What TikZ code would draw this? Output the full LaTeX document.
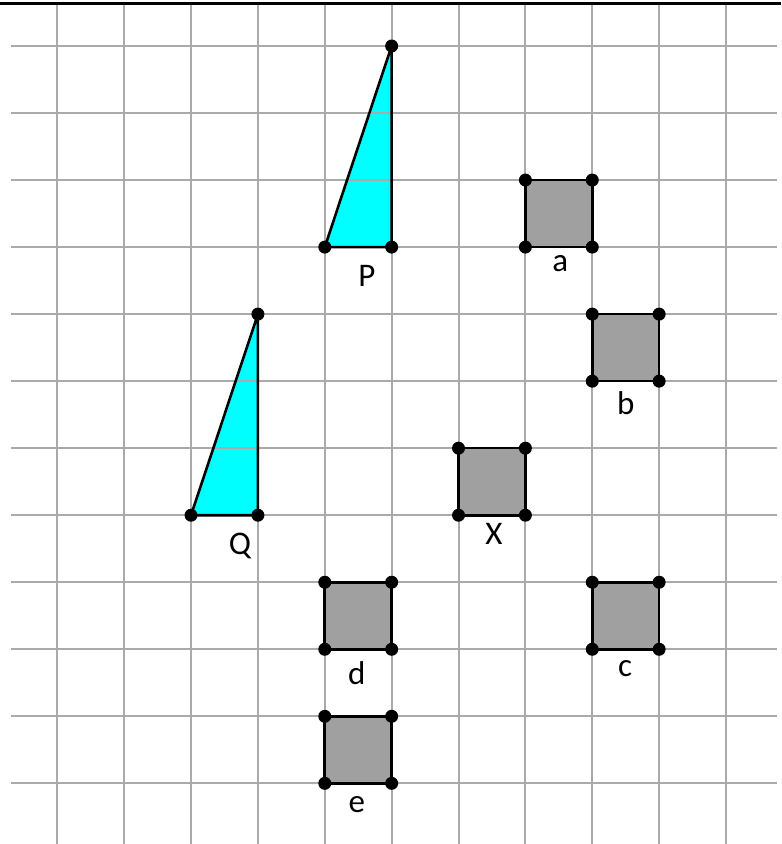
\documentclass[tikz,border=0pt]{standalone}
\usepackage{fontspec}
\setmainfont{Carlito}
\definecolor{aqua}{RGB}{0,255,255}
\definecolor{sqgray}{RGB}{160,160,160}
\definecolor{gridgray}{RGB}{170,170,170}
\begin{document}
\begin{tikzpicture}[x=66.87pt,y=-67.03pt,
  gridline/.style={draw=gridgray, line width=2pt},
  outline/.style={draw=black, line width=2.6pt, line join=round},
  tri/.style={fill=aqua},
  sq/.style={fill=sqgray},
  pt/.style={circle, fill=black, inner sep=0pt, minimum size=13pt},
  lbl/.style={anchor=base, inner sep=0pt, font=\fontsize{33}{33}\selectfont}]
\useasboundingbox (-0.8569,-0.6863) rectangle (10.8225,11.905);
\fill[white] (-0.8569,-0.6863) rectangle (10.8225,11.905);
% named vertices
\coordinate (P1) at (4,3); \coordinate (P2) at (5,3); \coordinate (P3) at (5,0);
\coordinate (Q1) at (2,7); \coordinate (Q2) at (3,7); \coordinate (Q3) at (3,4);
% fills
\fill[tri] (P1) -- (P2) -- (P3) -- cycle;
\fill[tri] (Q1) -- (Q2) -- (Q3) -- cycle;
\foreach \n/\c/\r in {a/7/2, b/8/4, X/6/6, c/8/8, d/4/8, e/4/10}{
  \coordinate (\n1) at (\c,\r+1);
  \coordinate (\n2) at (\c+1,\r+1);
  \coordinate (\n3) at (\c+1,\r);
  \coordinate (\n4) at (\c,\r);
  \fill[sq] (\n1) rectangle (\n3);
}
% grid
\foreach \j in {0,...,11}{ \draw[gridline] (-0.6924,\j) -- (10.763,\j); }
\foreach \i in {0,...,10}{ \draw[gridline] (\i,-0.612) -- (\i,11.905); }
% top rule
\draw[black, line width=2.4pt] (-0.8569,-0.634) -- (10.8225,-0.634);
% outlines
\draw[outline] (P1) -- (P2) -- (P3) -- cycle;
\draw[outline] (Q1) -- (Q2) -- (Q3) -- cycle;
\foreach \n in {a,b,X,c,d,e}{
  \draw[outline] (\n1) -- (\n2) -- (\n3) -- (\n4) -- cycle;
  \foreach \k in {1,2,3,4}{ \node[pt] (\n\k dot) at (\n\k) {}; }
}
\foreach \n in {P1,P2,P3,Q1,Q2,Q3}{ \node[pt] (\n dot) at (\n) {}; }
% labels
\node[lbl] (labP) at (4.63,3.595) {P};
\node[lbl] (labQ) at (2.73,7.59) {Q};
\node[lbl] (laba) at (7.52,3.37) {a};
\node[lbl] (labb) at (8.50,5.49) {b};
\node[lbl] (labX) at (6.53,7.44) {X};
\node[lbl] (labc) at (8.49,9.40) {c};
\node[lbl] (labd) at (4.48,9.53) {d};
\node[lbl] (labe) at (4.48,11.44) {e};
\end{tikzpicture}
\end{document}
